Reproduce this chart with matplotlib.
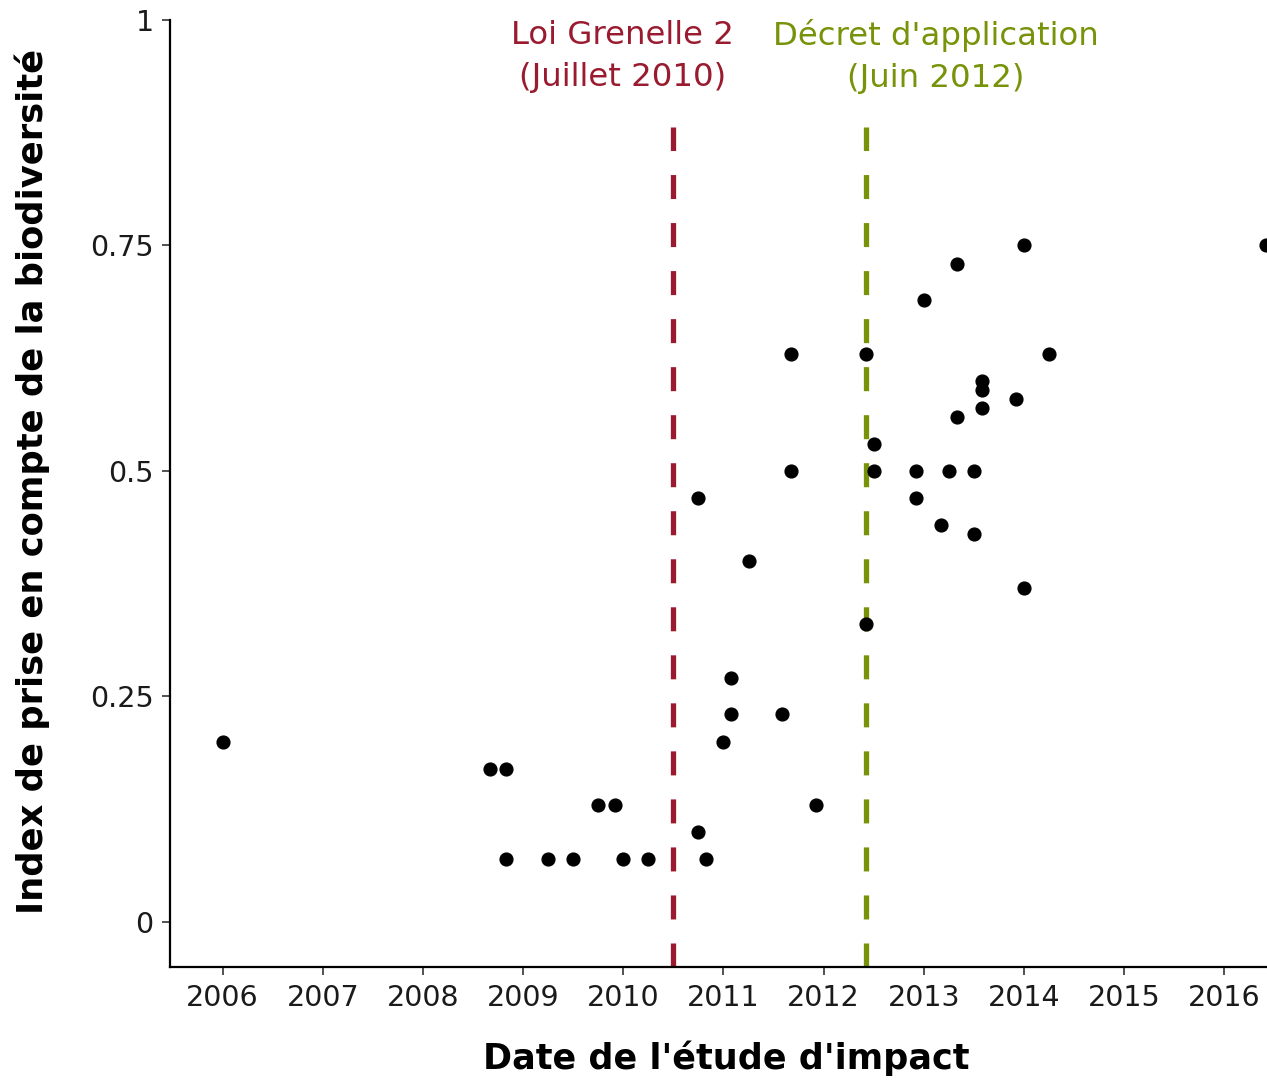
import matplotlib as mpl
mpl.use('Agg')
import matplotlib.pyplot as plt

# dates (decimal years) and index values
dates = [2006.0, 2008.67, 2008.83, 2008.83, 2009.25, 2009.5, 2009.75, 2009.92,
         2010.0, 2010.25, 2010.75, 2010.83, 2010.75, 2011.0, 2011.08, 2011.08,
         2011.25, 2011.58, 2011.67, 2011.67, 2011.92, 2012.42, 2012.42, 2012.5,
         2012.5, 2012.92, 2012.92, 2013.0, 2013.17, 2013.25, 2013.33, 2013.33,
         2013.5, 2013.5, 2013.58, 2013.58, 2013.58, 2013.92, 2014.0, 2014.0,
         2014.25, 2016.42]
index = [0.20, 0.17, 0.17, 0.07, 0.07, 0.07, 0.13, 0.13,
         0.07, 0.07, 0.10, 0.07, 0.47, 0.20, 0.27, 0.23,
         0.40, 0.23, 0.63, 0.50, 0.13, 0.63, 0.33, 0.53,
         0.50, 0.50, 0.47, 0.69, 0.44, 0.50, 0.73, 0.56,
         0.50, 0.43, 0.60, 0.59, 0.57, 0.58, 0.75, 0.37,
         0.63, 0.75]

events = [2010.5, 2012.42]
event_labels = ["Loi Grenelle 2\n(Juillet 2010)", "Décret d'application\n(Juin 2012)"]
event_colors = ['#9a1b2f', '#76930a']
label_x = [2009.99, 2013.12]

years = list(range(2006, 2017))
yticks = [0, 0.25, 0.5, 0.75, 1]
ytick_labels = ['0', '0.25', '0.5', '0.75', '1']

W, H = 1267, 1082
fig = plt.figure(figsize=(W / 100, H / 100), dpi=100)
# axes runs past the right edge, the original picture is cropped there
ax = fig.add_axes([170.4 / W, (H - 967) / H, (1318.5 - 170.4) / W, (967 - 20) / H])

for x, c in zip(events, event_colors):
    ax.vlines(x, -0.05, 0.881, colors=c, linewidth=3.8, linestyles=(0, (4.55, 4.55)), zorder=1)

ax.plot(dates, index, 'o', color='black', markersize=9.2, zorder=3, clip_on=False)

for x, t, c in zip(label_x, event_labels, event_colors):
    ax.text(x, 0.9595, t, color=c, fontsize=23.3, ha='center', va='center',
            multialignment='center', linespacing=1.45)

ax.set_xlim(2005.479, 2016.94)
ax.set_ylim(-0.05, 1.0)
ax.set_xticks(years)
ax.set_xticklabels([str(y) for y in years])
ax.set_yticks(yticks)
ax.set_yticklabels(ytick_labels)
ax.tick_params(labelsize=20.5, length=6, width=1.2, color='#333333', labelcolor='#1a1a1a', pad=6)

for s in ['top', 'right']:
    ax.spines[s].set_visible(False)
for s in ['left', 'bottom']:
    ax.spines[s].set_linewidth(1.6)

fig.text(726 / W, 1 - 1058 / H, "Date de l'étude d'impact", fontsize=25.2,
         fontweight='bold', ha='center', va='center')
fig.text(32 / W, 1 - 481 / H, "Index de prise en compte de la biodiversité", fontsize=25.4,
         fontweight='bold', ha='center', va='center', rotation=90)

plt.savefig('out.png', dpi=100)
